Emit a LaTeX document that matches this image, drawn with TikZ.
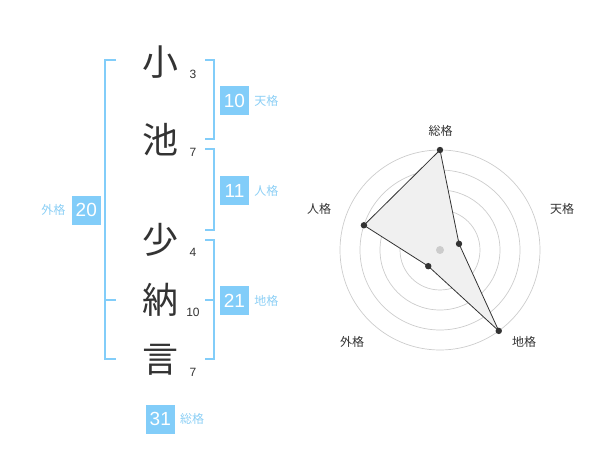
\documentclass[tikz,border=0pt]{standalone}
\usepackage{fontspec}
\setmainfont{Liberation Sans}
\newfontfamily\cjk{Noto Sans CJK JP}
\usepackage{xcolor}
\usepackage{tikz}
\usetikzlibrary{positioning}
\definecolor{kakublue}{HTML}{82CDF9}
\definecolor{nameblue}{HTML}{8CCFF5}
\definecolor{inkgray}{HTML}{333333}

\begin{document}
\begin{tikzpicture}[x=1pt, y=-1pt, every node/.style={inner sep=0pt},
    kanji/.style={font=\cjk\fontsize{36}{36}\selectfont, text=inkgray},
    strokes/.style={font=\fontsize{12}{12}\selectfont, text=inkgray},
    kakubox/.style={fill=kakublue, text=white, minimum width=29, minimum height=29, font=\fontsize{19}{19}\selectfont},
    kakuname/.style={font=\cjk\fontsize{12}{12}\selectfont, text=nameblue},
    axisname/.style={font=\cjk\fontsize{12}{12}\selectfont, text=inkgray},
    bracket/.style={draw=kakublue, line width=2},
    ring/.style={draw=black!20, line width=0.7}]
    \useasboundingbox (0,0) rectangle (600,470);
    % name and stroke counts
    \foreach \c/\y/\n/\s in {小/62/a/3, 池/140/b/7, 少/240/c/4, 納/300/d/10, 言/360/e/7} {
        \node[kanji] (k\n) at (160,\y) {\c};
        \node[strokes] (s\n) at (193,\y+12) {\s};
    }
    % brackets
    \draw[bracket] (116,60) -- (105,60) -- (105,359) -- (116,359);
    \draw[bracket] (105,300) -- (116,300);
    \draw[bracket] (205,60) -- (214,60) -- (214,139) -- (205,139);
    \draw[bracket] (205,149) -- (214,149) -- (214,230) -- (205,230);
    \draw[bracket] (205,240) -- (214,240) -- (214,359) -- (205,359);
    \draw[bracket] (205,300) -- (214,300);
    % values
    \node[kakubox] (ten) at (234.5,100.5) {10};
    \node[kakuname, right=5pt of ten] (tenname) {天格};
    \node[kakubox] (jin) at (234.5,190.5) {11};
    \node[kakuname, right=5pt of jin] (jinname) {人格};
    \node[kakubox] (chi) at (234.5,300.5) {21};
    \node[kakuname, right=5pt of chi] (chiname) {地格};
    \node[kakubox] (gai) at (86.3,210.3) {20};
    \node[kakuname, left=6pt of gai] (gainame) {外格};
    \node[kakubox] (sou) at (160.3,419.3) {31};
    \node[kakuname, right=5pt of sou] (souname) {総格};
    % radar chart
    \coordinate (center) at (440,250);
    \foreach \r in {20,40,...,100} {
        \draw[ring] (center) circle (\r);
    }
    \foreach \a/\v/\n in {90/5/sou, 18/1/ten, -54/5/chi, -126/1/gai, 162/4/jin} {
        \coordinate (p\n) at ({440+20*\v*cos(\a)},{250-20*\v*sin(\a)});
    }
    \filldraw[fill=black!6, draw=inkgray, line width=0.8] (psou) -- (pten) -- (pchi) -- (pgai) -- (pjin) -- cycle;
    \foreach \n in {sou,ten,chi,gai,jin} {
        \fill[inkgray] (p\n) circle (3.2);
    }
    \fill[black!20] (center) circle (4);
    \node[axisname] (axsou) at (440.7,130.7) {総格};
    \node[axisname] (axten) at (562,209) {天格};
    \node[axisname] (axchi) at (524,342) {地格};
    \node[axisname] (axgai) at (352,342) {外格};
    \node[axisname] (axjin) at (319,209) {人格};
\end{tikzpicture}
\end{document}
